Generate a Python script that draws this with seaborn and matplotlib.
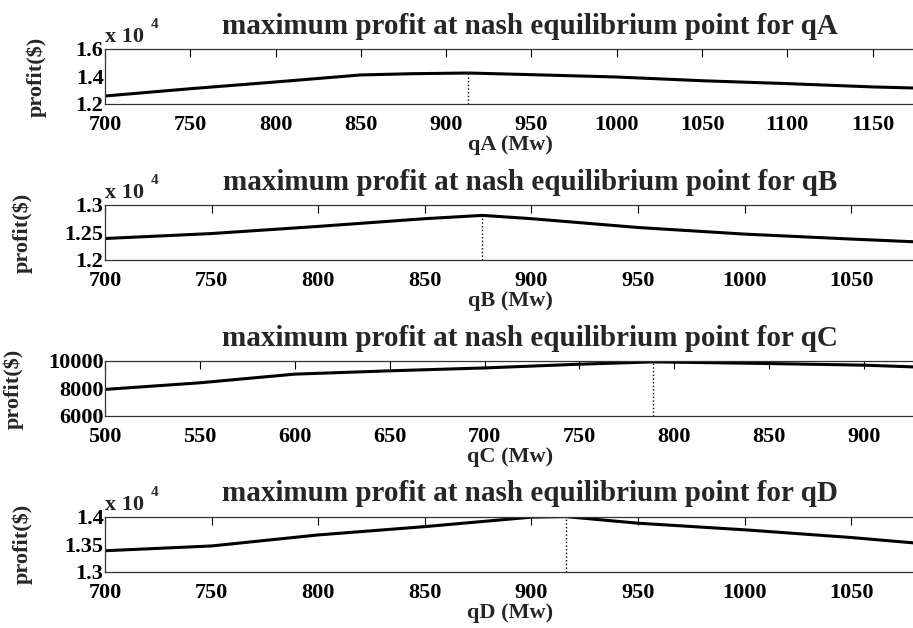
import matplotlib

matplotlib.use("Agg")
import matplotlib.pyplot as plt
import numpy as np
import pandas as pd
import seaborn as sns

# quantities (MW) and profit ($)
qa = [700, 750, 800, 850, 880, 913, 950, 1000, 1050, 1100, 1150, 1175]
profit_a = [12580, 13110, 13600, 14110, 14200, 14250, 14130, 13960, 13690, 13480, 13240, 13160]
qb = [700, 750, 800, 850, 877, 900, 950, 1000, 1050, 1080]
profit_b = [12390, 12480, 12610, 12750, 12810, 12750, 12590, 12470, 12380, 12330]
qc = [500, 550, 600, 650, 700, 750, 789, 850, 900, 927]
profit_c = [7930, 8410, 9040, 9280, 9490, 9760, 9930, 9810, 9690, 9560]
qd = [700, 750, 800, 850, 900, 916, 950, 1000, 1050, 1080]
profit_d = [13380, 13467, 13667, 13818, 13990, 14000, 13880, 13760, 13620, 13520]

nash_q = [913, 877, 789, 916]
names = ["qA", "qB", "qC", "qD"]
xlims = [(700, 1175), (700, 1080), (500, 927), (700, 1080)]
xticks = [np.arange(700, 1151, 50), np.arange(700, 1051, 50),
          np.arange(500, 901, 50), np.arange(700, 1051, 50)]
ylims = [(1.2, 1.6), (1.2, 1.3), (6000, 10000), (1.3, 1.4)]
yticks = [[1.2, 1.4, 1.6], [1.2, 1.25, 1.3], [6000, 8000, 10000], [1.3, 1.35, 1.4]]
ytick_labels = [["1.2", "1.4", "1.6"], ["1.2", "1.25", "1.3"],
                ["6000", "8000", "10000"], ["1.3", "1.35", "1.4"]]
scale = [1e4, 1e4, 1.0, 1e4]

sns.set_style("white")
plt.rcParams["font.family"] = ["Liberation Serif", "DejaVu Serif"]
plt.rcParams["font.weight"] = "bold"

fig = plt.figure(figsize=(9.13, 6.28), dpi=100)
bottoms = [0.8344, 0.586, 0.3376, 0.0897]
ylabel_x = [-0.072, -0.089, -0.10, -0.089]
series = [(qa, profit_a), (qb, profit_b), (qc, profit_c), (qd, profit_d)]

for i, (q, p) in enumerate(series):
    ax = fig.add_axes([0.115, bottoms[i], 0.8875, 0.0877])
    df = pd.DataFrame({"q": q, "profit": np.array(p) / scale[i]})
    sns.lineplot(data=df, x="q", y="profit", ax=ax, color="black", linewidth=2.2)
    peak = np.interp(nash_q[i], q, df["profit"])
    ax.vlines(nash_q[i], ylims[i][0], peak, colors="black", linestyles=":", linewidth=1.0)

    ax.set_xlim(*xlims[i])
    ax.set_ylim(*ylims[i])
    ax.set_xticks(xticks[i])
    ax.set_yticks(yticks[i])
    ax.set_yticklabels(ytick_labels[i])
    ax.tick_params(direction="in", length=6, width=0.8, top=True, right=False,
                   labelsize=16, colors="black")
    ax.tick_params(axis="x", pad=8)
    ax.tick_params(axis="y", pad=1)
    for lab in ax.get_xticklabels() + ax.get_yticklabels():
        lab.set_fontweight("bold")
    for s in ax.spines.values():
        s.set_color("#333333")
        s.set_linewidth(0.9)

    ax.set_xlabel(f"{names[i]} (Mw)", fontsize=16, fontweight="bold", labelpad=0)
    ax.set_ylabel(r"profit(\$)", fontsize=16, fontweight="bold")
    ax.yaxis.set_label_coords(ylabel_x[i], 0.5)
    ax.set_title(f"maximum profit at nash equilibrium point for {names[i]}",
                 fontsize=21, fontweight="bold", pad=11, x=0.525)
    if scale[i] != 1.0:
        ax.annotate("x 10", xy=(0, 1), xycoords="axes fraction", xytext=(0, 5),
                    textcoords="offset points", fontsize=16, fontweight="bold",
                    ha="left", va="baseline")
        ax.annotate("4", xy=(0, 1), xycoords="axes fraction", xytext=(33, 15),
                    textcoords="offset points", fontsize=11, fontweight="bold",
                    ha="left", va="baseline")

fig.savefig("out.png", dpi=100, facecolor="white")
